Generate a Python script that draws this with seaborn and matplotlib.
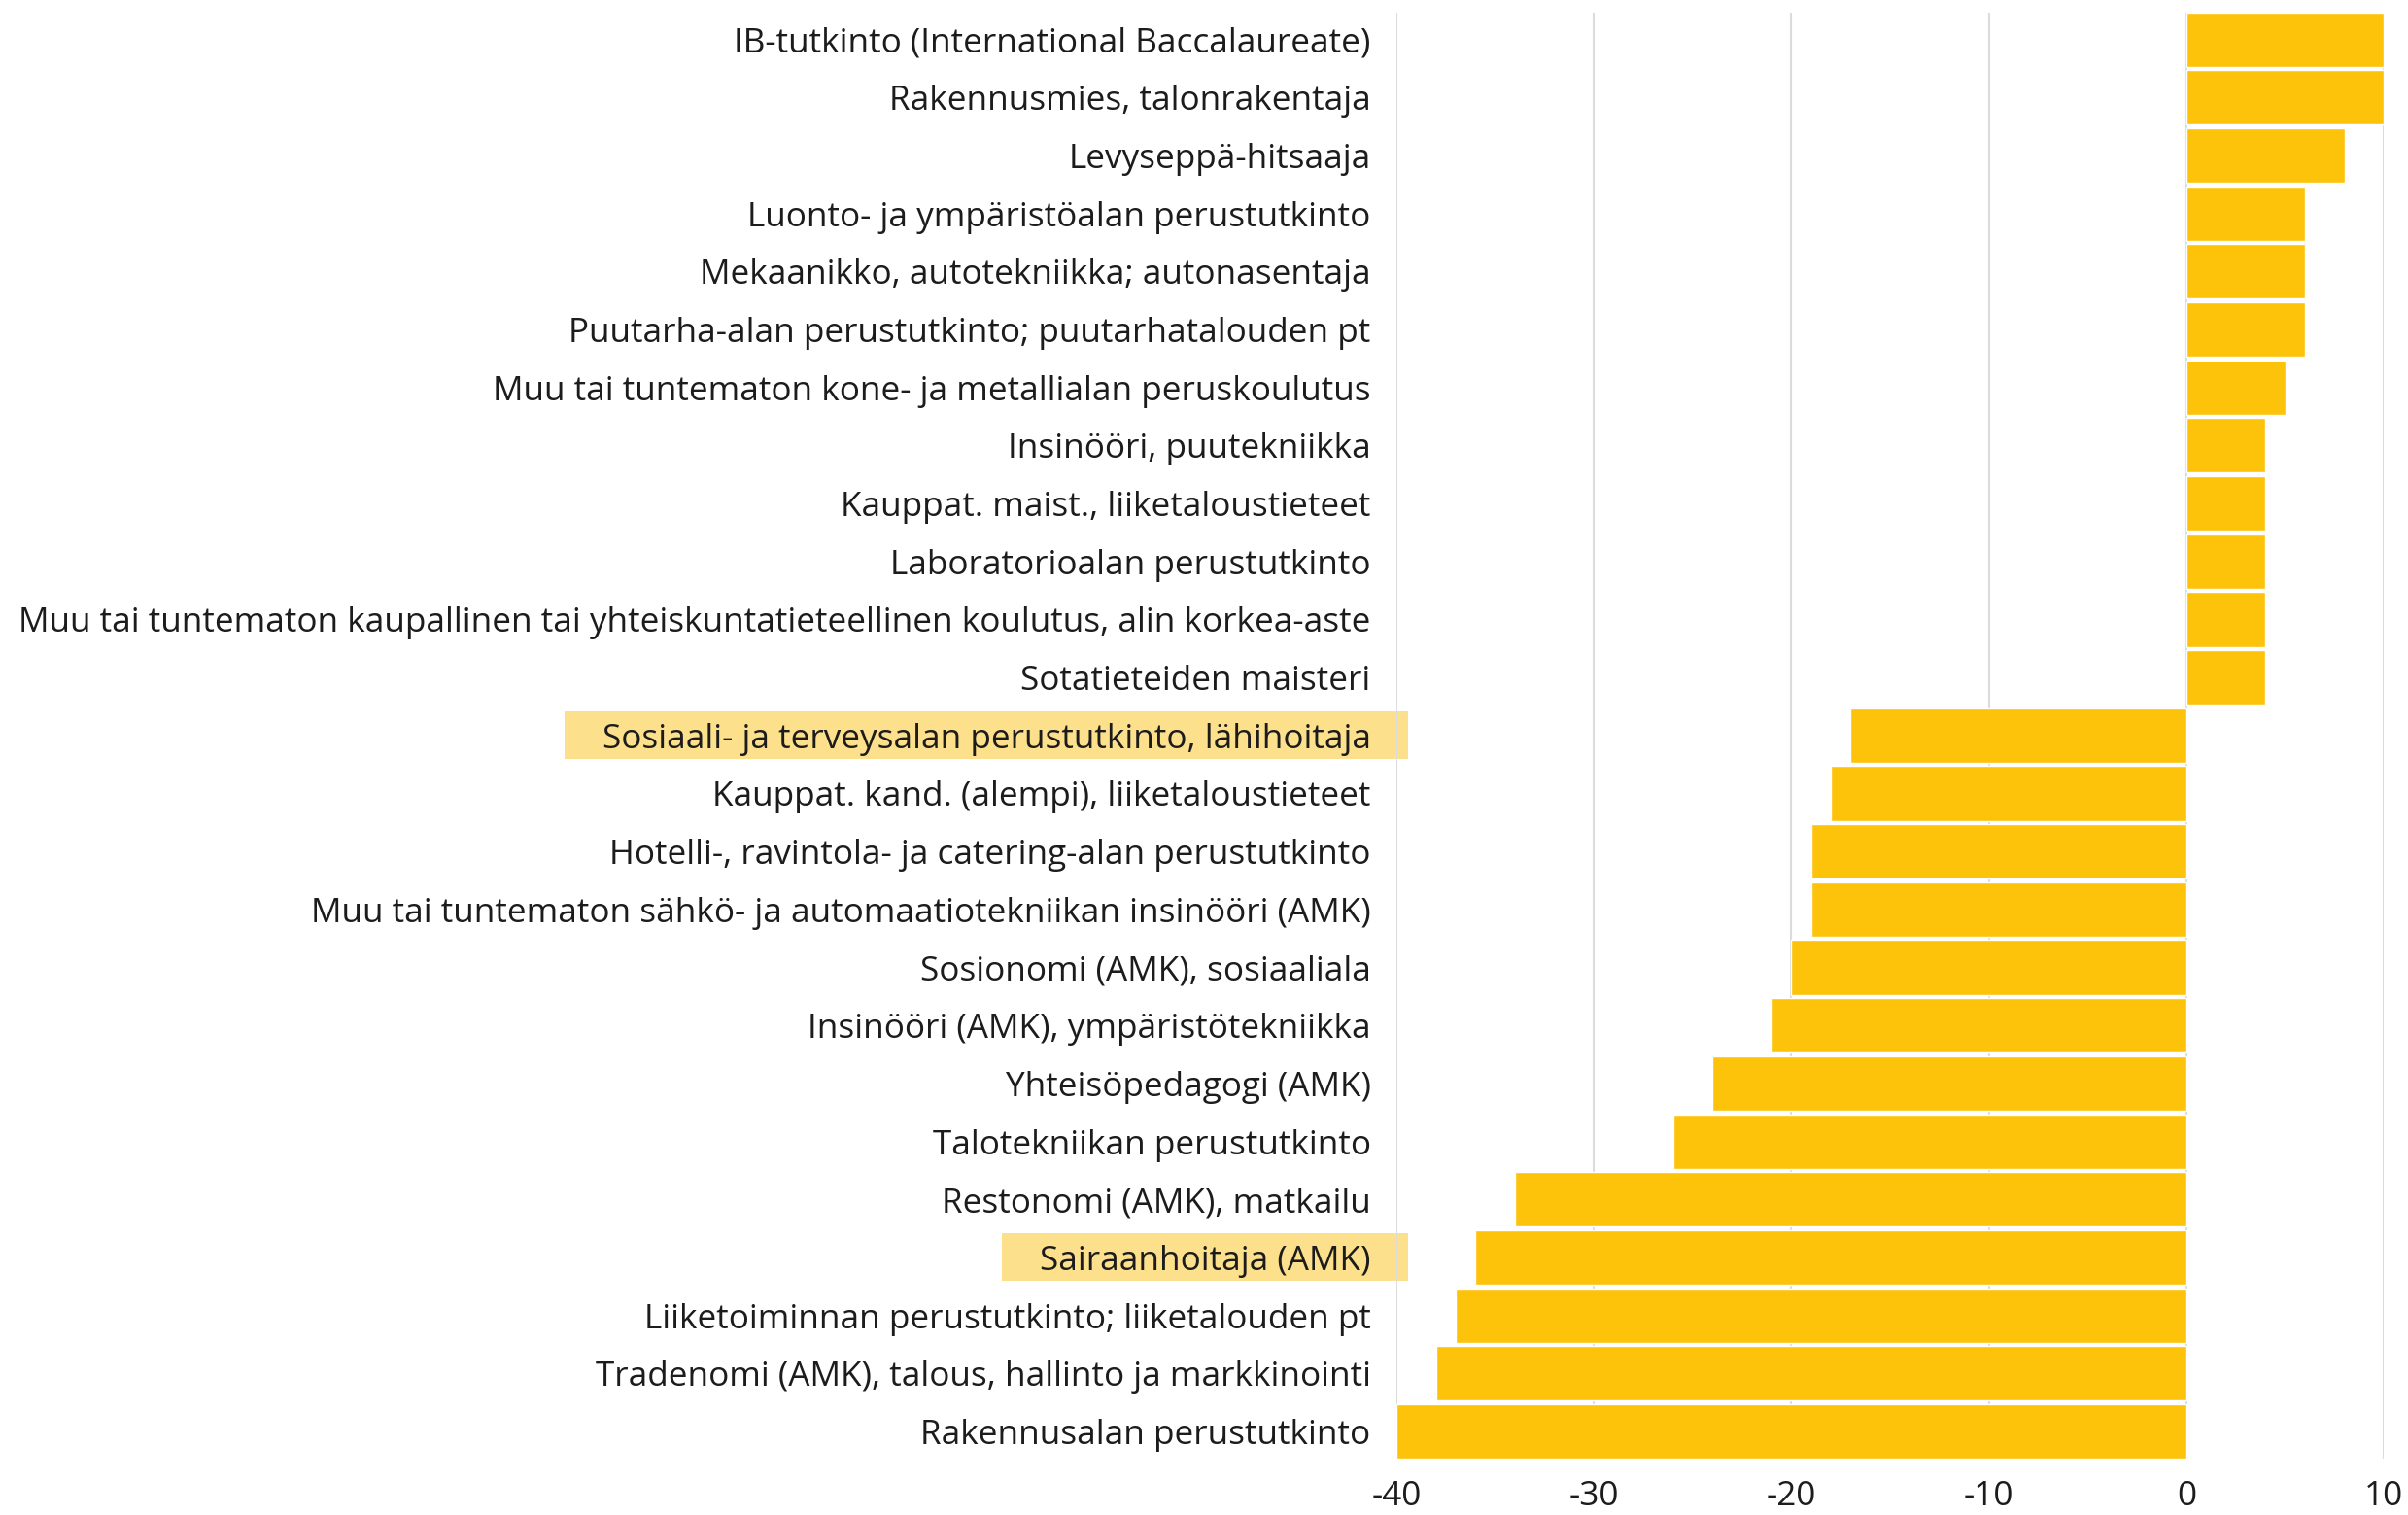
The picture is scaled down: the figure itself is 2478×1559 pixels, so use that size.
import matplotlib
matplotlib.use("Agg")
import matplotlib.pyplot as plt
import seaborn as sns
import pandas as pd
from matplotlib.patches import Rectangle

categories = [
    "IB-tutkinto (International Baccalaureate)",
    "Rakennusmies, talonrakentaja",
    "Levyseppä-hitsaaja",
    "Luonto- ja ympäristöalan perustutkinto",
    "Mekaanikko, autotekniikka; autonasentaja",
    "Puutarha-alan perustutkinto; puutarhatalouden pt",
    "Muu tai tuntematon kone- ja metallialan peruskoulutus",
    "Insinööri, puutekniikka",
    "Kauppat. maist., liiketaloustieteet",
    "Laboratorioalan perustutkinto",
    "Muu tai tuntematon kaupallinen tai yhteiskuntatieteellinen koulutus, alin korkea-aste",
    "Sotatieteiden maisteri",
    "Sosiaali- ja terveysalan perustutkinto, lähihoitaja",
    "Kauppat. kand. (alempi), liiketaloustieteet",
    "Hotelli-, ravintola- ja catering-alan perustutkinto",
    "Muu tai tuntematon sähkö- ja automaatiotekniikan insinööri (AMK)",
    "Sosionomi (AMK), sosiaaliala",
    "Insinööri (AMK), ympäristötekniikka",
    "Yhteisöpedagogi (AMK)",
    "Talotekniikan perustutkinto",
    "Restonomi (AMK), matkailu",
    "Sairaanhoitaja (AMK)",
    "Liiketoiminnan perustutkinto; liiketalouden pt",
    "Tradenomi (AMK), talous, hallinto ja markkinointi",
    "Rakennusalan perustutkinto",
]
values = [10, 10, 8, 6, 6, 6, 5, 4, 4, 4, 4, 4,
          -17, -18, -19, -19, -20, -21, -24, -26, -34, -36, -37, -38, -40]
highlighted = ["Sosiaali- ja terveysalan perustutkinto, lähihoitaja",
               "Sairaanhoitaja (AMK)"]
xticks = [-40, -30, -20, -10, 0, 10]

BAR = "#FDC20A"
HL = "#FDE08B"
TXT = "#1c1c1c"
GRID = "#dcdcdc"

sns.set_theme(style="white")
plt.rcParams["font.family"] = ["Open Sans", "DejaVu Sans"]
plt.rcParams["axes.unicode_minus"] = False

df = pd.DataFrame({"cat": categories, "val": values})

fig = plt.figure(figsize=(24.78, 15.59), dpi=100)
ax = fig.add_axes([0.5799, 0.0372, 0.4101, 0.9547])
ax.patch.set_alpha(0)

bw = 0.94
sns.barplot(data=df, x="val", y="cat", order=categories, orient="h",
            color=BAR, saturation=1, width=bw, ax=ax, zorder=3)

ax.set_xlim(-40, 10)
ax.set_ylim(len(categories) - 1 + bw / 2, -bw / 2)
ax.set_xticks(xticks)
ax.set_xticklabels([str(t) for t in xticks])
ax.set_xlabel("")
ax.set_ylabel("")
for s in ax.spines.values():
    s.set_visible(False)
ax.xaxis.grid(True, color=GRID, linewidth=1.5, zorder=0)
ax.yaxis.grid(False)
ax.set_axisbelow(True)
ax.tick_params(axis="both", length=0, labelsize=25.3, colors=TXT)
ax.tick_params(axis="y", pad=19)
ax.tick_params(axis="x", pad=16)

# highlight boxes behind selected labels
fig.canvas.draw()
renderer = fig.canvas.get_renderer()
W, H = fig.get_size_inches() * fig.dpi
ax_left_px = ax.get_window_extent(renderer).x0
for lbl in ax.get_yticklabels():
    if lbl.get_text() in highlighted:
        bb = lbl.get_window_extent(renderer)
        yi = categories.index(lbl.get_text())
        yc_disp = ax.transData.transform((0, yi))[1]
        hh = 49
        x0 = bb.x0 - 39
        x1 = ax_left_px + 12
        rect = Rectangle((x0 / W, (yc_disp - hh / 2) / H), (x1 - x0) / W, hh / H,
                         transform=fig.transFigure, facecolor=HL,
                         edgecolor="none", zorder=-1)
        fig.add_artist(rect)

fig.savefig("out.png", dpi=100, facecolor="white")
